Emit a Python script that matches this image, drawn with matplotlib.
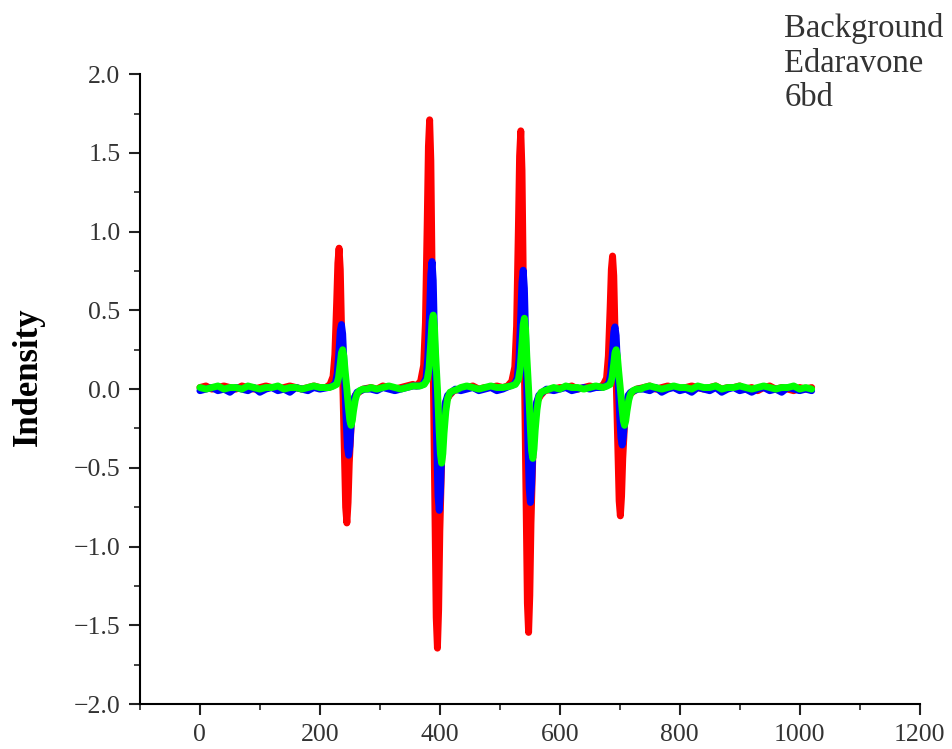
import matplotlib
matplotlib.use("Agg")
import matplotlib.pyplot as plt
from matplotlib.ticker import MultipleLocator, FuncFormatter

# ---------------- data ----------------
series_names = ["Background", "Edaravone", "6bd"]
series_colors = ["#ff0000", "#0000ff", "#00ff00"]

# shared baseline sample positions (outside the four lines)
base_x = [0, 10, 20, 30, 40, 50, 60, 70, 80, 90, 100, 110, 120, 130, 140, 150, 160, 170, 180, 190, 200,
          285, 295, 305, 315, 325, 335, 345, 355,
          435, 445, 455, 465, 475, 485, 495, 505,
          590, 600, 610, 620, 630, 640, 650, 660,
          740, 750, 760, 770, 780, 790, 800, 810, 820, 830, 840, 850, 860, 870, 880, 890, 900,
          910, 920, 930, 940, 950, 960, 970, 980, 990, 1000, 1010, 1020]

bg_base_y = [0.01, 0.02, 0.00, 0.01, 0.02, 0.01, 0.00, 0.02, 0.01, 0.00, 0.01, 0.02, 0.01, 0.00, 0.01, 0.02, 0.01, 0.00, 0.01, 0.02, 0.01,
             0.01, 0.00, 0.02, 0.01, 0.00, 0.01, 0.02, 0.03,
             0.00, 0.01, 0.02, 0.00, 0.01, 0.01, 0.02, 0.01,
             0.00, 0.01, 0.01, 0.02, 0.00, 0.01, 0.02, 0.01,
             0.01, 0.02, 0.00, 0.01, 0.02, 0.01, 0.00, 0.01, 0.02, 0.01, 0.00, 0.01, 0.02, 0.00, 0.01, 0.01, 0.02,
             0.00, 0.01, -0.01, 0.01, 0.02, 0.00, 0.01, 0.00, -0.01, 0.01, 0.00, 0.01]
eda_base_y = [-0.01, 0.00, 0.01, -0.01, 0.00, -0.02, 0.01, 0.00, -0.01, 0.01, -0.02, 0.00, 0.01, -0.01, 0.00, -0.02, 0.01, 0.00, -0.01, 0.01, 0.00,
              0.00, -0.01, 0.01, 0.00, -0.01, 0.00, 0.01, 0.02,
              -0.01, 0.00, 0.01, -0.01, 0.00, 0.01, -0.01, 0.00,
              -0.01, 0.00, 0.01, -0.01, 0.00, 0.01, 0.00, 0.01,
              0.00, -0.01, 0.01, -0.02, 0.00, 0.01, -0.01, 0.00, -0.02, 0.01, 0.00, -0.01, 0.01, -0.02, 0.00, 0.01, -0.01,
              0.00, -0.02, 0.00, 0.01, -0.01, 0.00, -0.02, 0.01, 0.00, -0.01, 0.00, -0.01]
bd_base_y = [0.01, 0.00, 0.01, 0.02, 0.00, 0.01, 0.01, 0.00, 0.02, 0.01, 0.00, 0.01, 0.01, 0.02, 0.00, 0.01, 0.01, 0.00, 0.01, 0.02, 0.01,
             0.01, 0.00, 0.01, 0.02, 0.01, 0.00, 0.01, 0.02,
             0.01, 0.02, 0.01, 0.00, 0.01, 0.02, 0.01, 0.01,
             0.01, 0.00, 0.02, 0.01, 0.01, 0.00, 0.01, 0.02,
             0.01, 0.02, 0.01, 0.00, 0.01, 0.02, 0.01, 0.01, 0.00, 0.02, 0.01, 0.01, 0.02, 0.00, 0.01, 0.01, 0.02,
             0.01, 0.00, 0.01, 0.02, 0.01, 0.00, 0.01, 0.01, 0.02, 0.00, 0.01, 0.00]

# Background (red) - four derivative lines
bg_peak_x = [210, 217, 222, 225, 228, 230, 232, 234, 236, 238.5, 241, 243, 245, 247, 249, 252, 255, 259, 265, 272,
             361, 368, 373, 376, 379, 381, 383, 385, 387, 389.5, 392, 394, 396, 398, 400, 403, 406, 410, 416, 423,
             513, 520, 525, 528, 531, 533, 535, 537, 539, 541.5, 544, 546, 548, 550, 552, 555, 558, 562, 568, 575,
             666, 673, 678, 681, 684, 686, 688, 690, 692, 694.5, 697, 699, 701, 703, 705, 708, 711, 715, 721, 728]
bg_peak_y = [0.01, 0.03, 0.08, 0.22, 0.55, 0.80, 0.895, 0.76, 0.40, 0.0, -0.42, -0.75, -0.85, -0.72, -0.47, -0.24, -0.11, -0.04, -0.02, 0.0,
             0.02, 0.05, 0.15, 0.42, 1.06, 1.54, 1.71, 1.45, 0.77, 0.0, -0.82, -1.45, -1.645, -1.40, -0.90, -0.46, -0.21, -0.08, -0.04, -0.01,
             0.02, 0.05, 0.14, 0.40, 1.02, 1.48, 1.64, 1.39, 0.74, 0.0, -0.77, -1.36, -1.545, -1.31, -0.85, -0.43, -0.20, -0.08, -0.04, -0.01,
             0.01, 0.03, 0.07, 0.21, 0.52, 0.76, 0.845, 0.72, 0.38, 0.0, -0.40, -0.71, -0.805, -0.68, -0.44, -0.22, -0.10, -0.04, -0.02, 0.0]

# Edaravone (blue)
eda_peak_x = [214, 221, 226, 229, 232, 234, 236, 238, 240, 242, 244, 246, 248, 250, 252, 255, 258, 262, 268, 275,
              365, 372, 377, 380, 383, 385, 387, 389, 391, 393, 395, 397, 399, 401, 403, 406, 409, 413, 419, 426,
              517, 524, 529, 532, 535, 537, 539, 541, 543, 545, 547, 549, 551, 553, 555, 558, 561, 565, 571, 578,
              670, 677, 682, 685, 688, 690, 692, 694, 696, 698, 700, 702, 704, 706, 708, 711, 714, 718, 724, 731]
eda_peak_y = [0.01, 0.02, 0.04, 0.10, 0.25, 0.37, 0.41, 0.35, 0.18, 0.0, -0.21, -0.37, -0.42, -0.36, -0.23, -0.12, -0.05, -0.02, -0.01, 0.0,
              0.02, 0.03, 0.07, 0.20, 0.50, 0.73, 0.81, 0.69, 0.36, 0.0, -0.38, -0.68, -0.77, -0.66, -0.42, -0.21, -0.09, -0.04, -0.02, 0.0,
              0.02, 0.03, 0.07, 0.19, 0.47, 0.68, 0.755, 0.64, 0.34, 0.0, -0.36, -0.63, -0.72, -0.61, -0.40, -0.20, -0.09, -0.04, -0.02, 0.0,
              0.01, 0.02, 0.04, 0.10, 0.24, 0.36, 0.395, 0.34, 0.17, 0.0, -0.18, -0.31, -0.355, -0.30, -0.20, -0.10, -0.04, -0.02, -0.01, 0.0]

# 6bd (green)
bd_peak_x = [216, 223, 228, 231, 234, 236, 238, 240, 242, 245, 248, 250, 252, 254, 256, 259, 262, 266, 272, 279,
             367, 374, 379, 382, 385, 387, 389, 391, 393, 396, 399, 401, 403, 405, 407, 410, 413, 417, 423, 430,
             519, 526, 531, 534, 537, 539, 541, 543, 545, 548, 551, 553, 555, 557, 559, 562, 565, 569, 575, 582,
             672, 679, 684, 687, 690, 692, 694, 696, 698, 701, 704, 706, 708, 710, 712, 715, 718, 722, 728, 735]
bd_peak_y = [0.01, 0.02, 0.03, 0.07, 0.16, 0.23, 0.25, 0.21, 0.12, 0.0, -0.13, -0.20, -0.23, -0.20, -0.14, -0.07, -0.03, -0.01, 0.0, 0.0,
             0.02, 0.03, 0.06, 0.13, 0.30, 0.43, 0.47, 0.40, 0.22, 0.0, -0.27, -0.41, -0.47, -0.41, -0.28, -0.14, -0.06, -0.02, -0.01, 0.0,
             0.02, 0.03, 0.06, 0.13, 0.29, 0.41, 0.45, 0.38, 0.21, 0.0, -0.25, -0.39, -0.44, -0.38, -0.26, -0.13, -0.05, -0.02, -0.01, 0.0,
             0.01, 0.02, 0.03, 0.07, 0.16, 0.23, 0.25, 0.21, 0.12, 0.0, -0.13, -0.20, -0.23, -0.20, -0.14, -0.07, -0.03, -0.01, 0.0, 0.0]

x_ticks = [0, 200, 400, 600, 800, 1000, 1200]
y_ticks = [-2.0, -1.5, -1.0, -0.5, 0.0, 0.5, 1.0, 1.5, 2.0]
y_label = "Indensity"

# ---------------- drawing ----------------
def merged(px, py, by):
    pts = sorted(list(zip(px, py)) + list(zip(base_x, by)))
    return [p[0] for p in pts], [p[1] for p in pts]

fig = plt.figure(figsize=(9.52, 7.49), dpi=100)
ax = fig.add_axes([0.147, 0.060, 0.819, 0.841])

all_series = [(bg_peak_x, bg_peak_y, bg_base_y),
              (eda_peak_x, eda_peak_y, eda_base_y),
              (bd_peak_x, bd_peak_y, bd_base_y)]
for (px, py, by), name, col in zip(all_series, series_names, series_colors):
    xs, ys = merged(px, py, by)
    ax.plot(xs, ys, color=col, lw=5.0, label=name, solid_joinstyle="round", solid_capstyle="round")

ax.set_xlim(-100, 1200)
ax.set_ylim(-2.0, 2.0)
ax.set_xticks(x_ticks)
ax.set_yticks(y_ticks)
ax.xaxis.set_minor_locator(MultipleLocator(100))
ax.yaxis.set_minor_locator(MultipleLocator(0.25))
ax.yaxis.set_major_formatter(FuncFormatter(lambda v, p: f"{v:.1f}".replace("-", "\u2212")))

for s in ["top", "right"]:
    ax.spines[s].set_visible(False)
for s in ["left", "bottom"]:
    ax.spines[s].set_linewidth(1.5)

tick_font = "Liberation Serif"
ax.tick_params(which="major", direction="out", length=8, width=1.5, labelsize=18.5, colors="#222222", pad=6)
ax.tick_params(which="minor", direction="out", length=4, width=1.2, colors="#222222")
for lab in ax.get_xticklabels() + ax.get_yticklabels():
    lab.set_fontfamily(tick_font)
    lab.set_color("#333333")

fig.text(0.030, 0.497, y_label, rotation=90, ha="center", va="center",
         fontsize=25, fontweight="bold", family="Liberation Serif")

for i, (name, col) in enumerate(zip(series_names, series_colors)):
    fig.text(0.824, 0.962 - i * 0.0465, name, ha="left", va="center",
             fontsize=23.5, family="Liberation Serif", color="#333333")

fig.savefig("out.png", dpi=100)
